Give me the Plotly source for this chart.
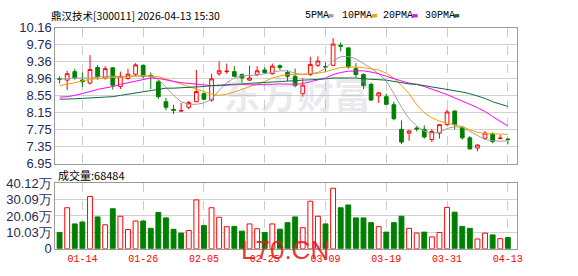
import plotly.graph_objects as go

# ---------------- data ----------------
dates = ["01-09", "01-12", "01-13", "01-14", "01-15", "01-16", "01-19", "01-20", "01-21", "01-22",
         "01-23", "01-26", "01-27", "01-28", "01-29", "01-30", "02-02", "02-03", "02-04", "02-05",
         "02-06", "02-09", "02-10", "02-11", "02-12", "02-13", "02-24", "02-25", "02-26", "02-27",
         "03-02", "03-03", "03-04", "03-05", "03-06", "03-09", "03-10", "03-11", "03-12", "03-13",
         "03-16", "03-17", "03-18", "03-19", "03-20", "03-23", "03-24", "03-25", "03-26", "03-27",
         "03-30", "03-31", "04-01", "04-02", "04-03", "04-07", "04-08", "04-09", "04-10", "04-13"]

opens = [8.95, 8.92, 9.12, 8.92, 8.85, 9.22, 8.97, 9.21, 8.77, 8.96,
         9.06, 9.27, 9.03, 8.88, 8.41, 8.23, 8.19, 8.28, 8.41, 8.60,
         8.45, 9.07, 9.12, 9.12, 9.05, 8.92, 9.05, 9.16, 9.07, 9.26,
         9.10, 9.01, 8.60, 9.05, 9.27, 9.24, 9.27, 9.74, 9.68, 9.19,
         9.05, 8.82, 8.55, 8.53, 8.34, 7.76, 7.67, 7.79, 7.76, 7.52,
         7.67, 7.87, 8.19, 7.81, 7.56, 7.32, 7.55, 7.65, 7.54, 7.53]
highs = [9.01, 9.14, 9.19, 9.10, 9.51, 9.28, 9.25, 9.23, 9.12, 9.19,
         9.32, 9.28, 9.10, 8.92, 8.50, 8.34, 8.38, 8.43, 9.16, 8.63,
         9.07, 9.36, 9.31, 9.25, 9.08, 9.26, 9.25, 9.22, 9.31, 9.29,
         9.16, 9.19, 8.97, 9.47, 9.48, 9.34, 9.91, 9.81, 9.69, 9.32,
         9.08, 8.86, 8.64, 8.60, 8.41, 7.97, 7.75, 7.83, 7.85, 7.76,
         7.88, 8.23, 8.21, 7.84, 7.60, 7.41, 7.72, 7.69, 7.63, 7.56]
lows = [8.84, 8.69, 8.93, 8.76, 8.82, 8.93, 8.93, 8.70, 8.71, 8.93,
        9.01, 8.96, 8.71, 8.48, 8.21, 8.12, 8.19, 8.23, 8.40, 8.45,
        8.41, 9.02, 9.07, 9.00, 8.86, 8.90, 9.01, 9.07, 9.05, 9.16,
        8.90, 8.75, 8.53, 9.02, 9.23, 9.12, 9.25, 9.60, 9.19, 8.99,
        8.71, 8.43, 8.38, 8.34, 7.97, 7.41, 7.49, 7.71, 7.54, 7.46,
        7.54, 7.85, 7.76, 7.52, 7.28, 7.24, 7.52, 7.43, 7.54, 7.41]
closes = [8.94, 9.07, 8.97, 8.88, 9.17, 9.00, 9.19, 8.80, 9.01, 9.06,
          9.28, 9.01, 9.01, 8.53, 8.28, 8.21, 8.20, 8.39, 8.65, 8.47,
          8.95, 9.14, 9.13, 9.01, 8.97, 8.97, 9.14, 9.10, 9.25, 9.22,
          9.01, 8.79, 8.80, 9.29, 9.37, 9.23, 9.77, 9.72, 9.23, 9.05,
          8.79, 8.45, 8.62, 8.35, 8.01, 7.46, 7.72, 7.77, 7.58, 7.71,
          7.87, 8.17, 7.87, 7.56, 7.30, 7.39, 7.67, 7.47, 7.55, 7.52]

ma5 = [8.95, 8.95, 8.97, 8.97, 8.97, 8.99, 9.01, 9.01, 9.00, 9.01,
       9.02, 9.02, 9.01, 8.94, 8.75, 8.56, 8.41, 8.35, 8.35, 8.38,
       8.47, 8.68, 8.86, 8.97, 9.02, 9.03, 9.04, 9.07, 9.10, 9.14,
       9.14, 9.08, 9.05, 9.07, 9.10, 9.20, 9.38, 9.47, 9.48, 9.42,
       9.32, 9.20, 9.07, 8.90, 8.60, 8.28, 8.01, 7.84, 7.72, 7.67,
       7.69, 7.78, 7.82, 7.81, 7.71, 7.61, 7.52, 7.49, 7.48, 7.49]
ma10 = [8.79, 8.82, 8.86, 8.90, 8.94, 8.95, 8.97, 8.98, 8.99, 9.01,
        9.02, 9.03, 9.02, 9.00, 8.95, 8.89, 8.82, 8.77, 8.70, 8.64,
        8.59, 8.56, 8.59, 8.64, 8.70, 8.76, 8.82, 8.89, 8.97, 9.02,
        9.05, 9.05, 9.06, 9.07, 9.08, 9.12, 9.17, 9.22, 9.23, 9.23,
        9.21, 9.18, 9.16, 9.08, 8.97, 8.79, 8.60, 8.34, 8.15, 8.03,
        7.95, 7.91, 7.87, 7.82, 7.75, 7.69, 7.66, 7.66, 7.65, 7.64]
ma20 = [8.52, 8.53, 8.56, 8.60, 8.65, 8.70, 8.73, 8.77, 8.82, 8.86,
        8.90, 8.94, 8.97, 8.96, 8.92, 8.89, 8.86, 8.84, 8.82, 8.80,
        8.79, 8.79, 8.80, 8.82, 8.82, 8.81, 8.81, 8.82, 8.82, 8.83,
        8.83, 8.82, 8.84, 8.88, 8.92, 8.97, 9.05, 9.10, 9.13, 9.14,
        9.14, 9.11, 9.07, 9.01, 8.95, 8.90, 8.85, 8.82, 8.77, 8.71,
        8.64, 8.58, 8.50, 8.43, 8.35, 8.27, 8.18, 8.06, 7.95, 7.84]
ma30 = [8.47, 8.47, 8.48, 8.49, 8.50, 8.51, 8.52, 8.53, 8.56, 8.59,
        8.62, 8.65, 8.68, 8.71, 8.73, 8.73, 8.74, 8.75, 8.75, 8.77,
        8.79, 8.80, 8.82, 8.82, 8.83, 8.84, 8.85, 8.86, 8.88, 8.89,
        8.90, 8.91, 8.91, 8.92, 8.94, 8.95, 8.97, 8.97, 8.97, 8.97,
        8.95, 8.94, 8.93, 8.92, 8.89, 8.86, 8.83, 8.82, 8.79, 8.76,
        8.73, 8.71, 8.68, 8.64, 8.60, 8.55, 8.49, 8.41, 8.35, 8.30]

# volume in 万 (10k lots); last value = 68484
volume = [10.0, 25.1, 15.2, 16.4, 32.0, 19.5, 14.7, 24.5, 19.9, 11.8,
          17.0, 17.0, 12.5, 22.2, 18.9, 11.9, 9.6, 11.2, 29.9, 14.3,
          25.1, 19.3, 13.5, 13.7, 10.8, 15.2, 12.3, 10.0, 15.2, 12.0,
          16.0, 19.5, 12.9, 29.1, 19.9, 15.2, 37.0, 25.1, 26.8, 18.9,
          18.9, 16.0, 13.5, 10.2, 16.0, 19.9, 12.5, 9.6, 10.2, 7.3,
          10.0, 25.3, 22.4, 13.7, 12.5, 6.0, 9.6, 8.5, 6.2, 6.8484]
vol_up = [0, 1, 0, 0, 1, 0, 1, 0, 1, 1,
          1, 0, 0, 0, 0, 0, 0, 1, 1, 0,
          1, 1, 1, 0, 0, 1, 1, 0, 1, 0,
          0, 0, 1, 1, 1, 0, 1, 0, 0, 0,
          0, 0, 1, 0, 0, 0, 1, 1, 0, 1,
          1, 1, 0, 0, 0, 1, 1, 0, 1, 0]

date_ticks = ["01-14", "01-26", "02-05", "02-25", "03-09", "03-19", "03-31", "04-13"]
price_tick_labels = ["6.95", "7.35", "7.75", "8.15", "8.55", "8.96", "9.36", "9.76", "10.16"]
vol_tick_labels = ["0", "10.03万", "20.06万", "30.09万", "40.12万"]
ma_names = ["5PMA", "10PMA", "20PMA", "30PMA"]

title_text = "鼎汉技术[300011] 2026-04-13 15:30"
vol_title = "成交量:68484"

# ---------------- styling ----------------
W, H = 578, 276
RED = "#ff0000"
GREEN = "#008000"
MA_COLORS = ["#a0a0a0", "#f0a000", "#ff00ff", "#0b6b3a"]
AXIS_TXT = "#1c2b5a"
GRID = "#d2d2d2"
FRAME = "#9a9a9a"


def px_x(x):
    return x / W


def px_y(y):
    return 1 - y / H


p_lo, p_hi = 6.95, 10.16
price_tick_vals = [p_lo + k * (p_hi - p_lo) / 8 for k in range(9)]
v_hi = 40.12
vol_tick_vals = [k * v_hi / 4 for k in range(5)]

fig = go.Figure()

fig.add_trace(go.Candlestick(
    x=dates, open=opens, high=highs, low=lows, close=closes,
    increasing=dict(line=dict(color=RED, width=1), fillcolor="#ffffff"),
    decreasing=dict(line=dict(color=GREEN, width=1), fillcolor=GREEN),
    whiskerwidth=0, hoverinfo="skip", xaxis="x", yaxis="y", showlegend=False))

for vals, col in zip([ma5, ma10, ma20, ma30], MA_COLORS):
    fig.add_trace(go.Scatter(x=dates, y=vals, mode="lines",
                             line=dict(color=col, width=1),
                             hoverinfo="skip", xaxis="x", yaxis="y", showlegend=False))

fig.add_trace(go.Bar(
    x=dates, y=volume, width=0.64,
    marker=dict(color=["#ffffff" if u else GREEN for u in vol_up],
                line=dict(color=[RED if u else GREEN for u in vol_up], width=1)),
    hoverinfo="skip", xaxis="x2", yaxis="y2", showlegend=False))

x_dom = [px_x(56), px_x(522)]
common_x = dict(type="category", range=[-0.55, 60.15], tickvals=date_ticks,
                showgrid=True, gridcolor="#cccccc", griddash="dash", gridwidth=1,
                showline=True, mirror=True, linecolor=FRAME, linewidth=1,
                zeroline=False, ticks="", fixedrange=True)

fig.update_layout(
    width=W, height=H, margin=dict(l=0, r=0, t=0, b=0),
    paper_bgcolor="white", plot_bgcolor="white", showlegend=False,
    boxgap=0.3,
    xaxis=dict(domain=x_dom, anchor="y", showticklabels=False,
               rangeslider=dict(visible=False), **common_x),
    xaxis2=dict(domain=x_dom, anchor="y2", matches="x", showticklabels=True,
                ticktext=date_ticks,
                tickfont=dict(family="Liberation Mono, DejaVu Sans Mono", size=10, color=RED),
                **common_x),
    yaxis=dict(domain=[px_y(165.7), px_y(21.7)], range=[p_lo, p_hi],
               tickvals=price_tick_vals, ticktext=price_tick_labels,
               showgrid=True, gridcolor=GRID, gridwidth=1, zeroline=False,
               showline=True, mirror=True, linecolor=FRAME, ticks="",
               tickfont=dict(family="Liberation Sans, Arial", size=13, color=AXIS_TXT)),
    yaxis2=dict(domain=[px_y(255.7), px_y(186.3)], range=[0, v_hi],
                tickvals=vol_tick_vals, ticktext=vol_tick_labels,
                showgrid=True, gridcolor=GRID, gridwidth=1, zeroline=False,
                showline=True, mirror=True, linecolor=FRAME, ticks="",
                tickfont=dict(family="Liberation Sans, Arial", size=13, color=AXIS_TXT)),
)

annotations = [
    dict(text=title_text, x=px_x(50), y=px_y(8.5), xanchor="left", yanchor="middle",
         font=dict(family="Noto Sans CJK SC", size=10.5, color="#000000")),
    dict(text=vol_title, x=px_x(57), y=px_y(177.5), xanchor="left", yanchor="middle",
         font=dict(family="Noto Sans CJK SC", size=11, color="#000000")),
    dict(text="<b>东方财富</b>", x=px_x(300), y=px_y(91), xanchor="center", yanchor="middle",
         font=dict(family="Noto Sans CJK SC", size=37, color="rgba(180,180,195,0.28)")),
    dict(text="L70.CN", x=px_x(288), y=px_y(257), xanchor="center", yanchor="middle",
         font=dict(family="Liberation Sans, Arial", size=26, color="rgba(225,30,30,0.9)")),
]
legend_x = [306, 344, 385, 427]
shapes = []
for name, col, lx in zip(ma_names, MA_COLORS, legend_x):
    annotations.append(dict(text=name, x=px_x(lx), y=px_y(8.5), xanchor="left", yanchor="middle",
                            font=dict(family="Liberation Mono, DejaVu Sans Mono", size=10, color="#000000")))
    sx = lx + len(name) * 6 + 2
    shapes.append(dict(type="rect", xref="paper", yref="paper",
                       x0=px_x(sx), x1=px_x(sx + 5), y0=px_y(11), y1=px_y(7.5),
                       fillcolor=col, line=dict(width=0)))
for a in annotations:
    a.update(xref="paper", yref="paper", showarrow=False)
fig.update_layout(annotations=annotations, shapes=shapes)

fig.write_html("out.html")
